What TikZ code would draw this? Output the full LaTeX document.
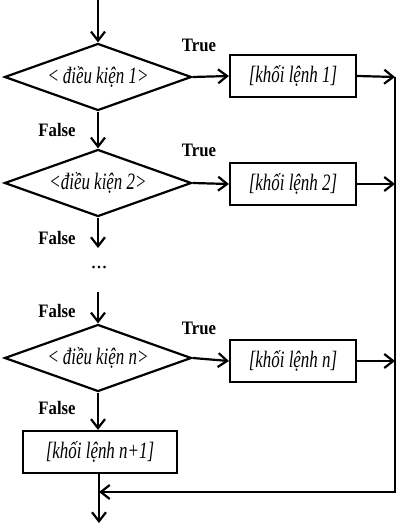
\documentclass[tikz,border=0pt]{standalone}
\usepackage{fontspec}
\setmainfont{Liberation Serif}
\newfontfamily\condit[FakeStretch=0.72]{Liberation Serif}
\newfontfamily\condbf[FakeStretch=0.88]{Liberation Serif}
\usetikzlibrary{shapes.geometric,arrows.meta}
\begin{document}
\begin{tikzpicture}[x=1pt,y=-1pt,
  line width=2.2pt,
  arr/.style={-{Straight Barb[length=9pt,width=14pt,line width=2.2pt]}},
  cond/.style={draw,diamond,aspect=2.8,minimum width=187pt,minimum height=67pt,inner sep=0pt,
    font=\condit\itshape\fontsize{23.5}{25}\selectfont},
  blk/.style={draw,rectangle,minimum width=126pt,minimum height=42pt,inner sep=0pt,
    font=\condit\itshape\fontsize{23.5}{25}\selectfont},
  lbl/.style={font=\condbf\bfseries\fontsize{19}{21}\selectfont,inner sep=0pt}]
\useasboundingbox (0,0) rectangle (405,526);
\coordinate (top) at (98,0);
\node[cond] (d1) at (98,77) {<\,điều kiện 1>};
\node[blk] (b1) at (293,76) {[khối lệnh 1]};
\node[cond] (d2) at (98,183) {<điều kiện 2>};
\node[blk] (b2) at (293,184) {[khối lệnh 2]};
\coordinate (f2) at (98,248);
\node[font=\fontsize{22}{24}\selectfont,inner sep=0pt] (dots) at (99,268) {...};
\coordinate (s3) at (98,292);
\node[cond] (dn) at (98,358) {<\,điều kiện n>};
\node[blk] (bn) at (293,361) {[khối lệnh n]};
\node[blk,minimum width=154pt] (bn1) at (100,452) {[khối lệnh n+1]};
\coordinate (r1) at (395,77);
\coordinate (r2) at (395,184);
\coordinate (rn) at (395,361);
\coordinate (rb) at (395,492);
\coordinate (mg) at (99,492);
\coordinate (end) at (99,523);
\node[lbl] (t1) at (199,45) {True};
\node[lbl] (t2) at (199,150) {True};
\node[lbl] (tn) at (199,328) {True};
\node[lbl] (fa1) at (57,130) {False};
\node[lbl] (fa2) at (57,238) {False};
\node[lbl] (fa3) at (57,311) {False};
\node[lbl] (fa4) at (57,408) {False};
\draw[arr] (top) -- (d1.north);
\draw[arr] (d1.east) -- (b1.west);
\draw[arr] (d2.east) -- (b2.west);
\draw[arr] (dn.east) -- (bn.west);
\draw[arr] (d1.south) -- (d2.north);
\draw[arr] (d2.south) -- (f2);
\draw[arr] (s3) -- (dn.north);
\draw[arr] (dn.south) -- (bn1.north -| dn.south);
\draw[arr] (b1.east) -- (r1);
\draw[arr] (b2.east) -- (r2);
\draw[arr] (bn.east) -- (rn);
\draw[arr,line join=miter] (r1) -- (rb) -- (mg);
\draw (bn1.south -| mg) -- (mg);
\draw[arr] (mg) -- (end);
\end{tikzpicture}
\end{document}
